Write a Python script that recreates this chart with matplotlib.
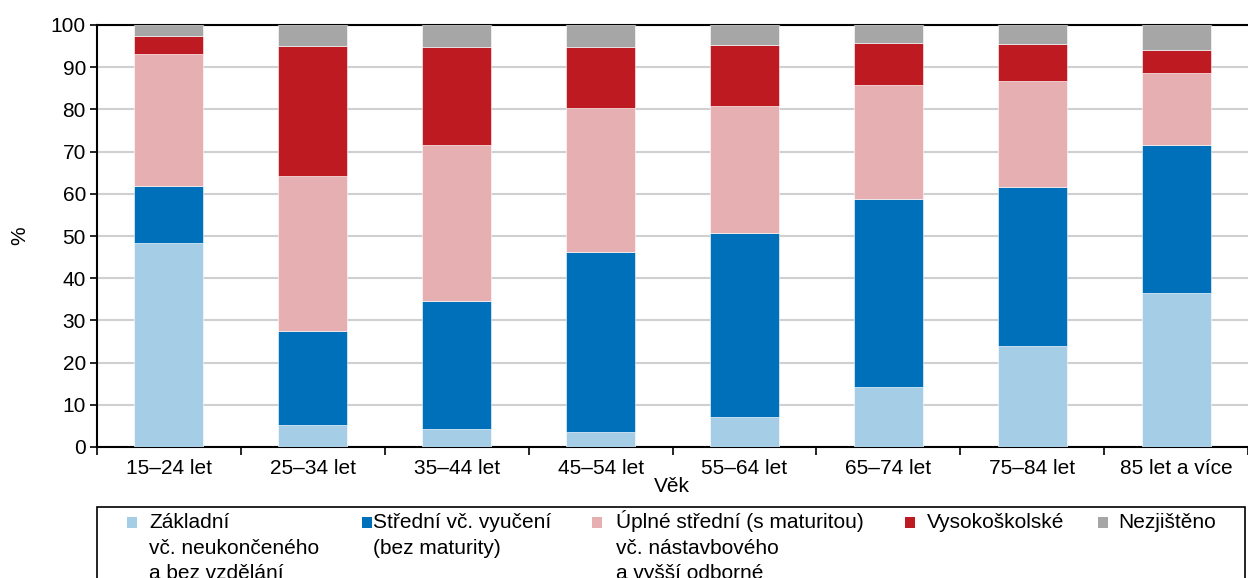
import matplotlib
matplotlib.use("Agg")
import matplotlib.pyplot as plt
from matplotlib.patches import Rectangle
import numpy as np

categories = ["15–24 let", "25–34 let", "35–44 let", "45–54 let",
              "55–64 let", "65–74 let", "75–84 let", "85 let a více"]
zakladni = [48.4, 5.3, 4.2, 3.5, 7.2, 14.1, 23.9, 36.5]
stredni = [13.4, 22.3, 30.3, 42.6, 43.4, 44.65, 37.8, 35.1]
uplne = [31.4, 36.7, 37.0, 34.3, 30.3, 27.1, 25.1, 17.0]
vysoko = [4.3, 30.7, 23.2, 14.5, 14.3, 9.8, 8.8, 5.4]
nezjisteno = [2.5, 5.0, 5.3, 5.1, 4.8, 4.35, 4.4, 6.0]

series_labels = ["Základní\nvč. neukončeného\na bez vzdělání",
                 "Střední vč. vyučení\n(bez maturity)",
                 "Úplné střední (s maturitou)\nvč. nástavbového\na vyšší odborné",
                 "Vysokoškolské",
                 "Nezjištěno"]
colors = ["#A6CDE6", "#0070BA", "#E6B0B3", "#BE1A22", "#A6A6A6"]

plt.rcParams['font.family'] = ['Liberation Sans', 'DejaVu Sans']
FS = 15

W, H = 1248, 578
def fx(px):
    return px / W
def fy(py):
    return 1 - py / H

fig = plt.figure(figsize=(W / 100, H / 100), dpi=100)
ax = fig.add_axes([fx(97), fy(447), 1 - fx(97), (447 - 25) / H])

x = np.arange(len(categories))
bottom = np.zeros(len(categories))
for vals, lab, col in zip([zakladni, stredni, uplne, vysoko, nezjisteno], series_labels, colors):
    ax.bar(x, vals, width=0.48, bottom=bottom, color=col, label=lab,
           edgecolor='white', linewidth=0.4, zorder=3)
    bottom += np.array(vals)

ax.set_xlim(-0.5, len(categories) - 0.5)
ax.set_ylim(0, 100)
ax.set_yticks(np.arange(0, 101, 10))
ax.yaxis.grid(True, color='#D0D0D0', linewidth=1.5, zorder=0)
ax.set_axisbelow(True)

ax.set_xticks(x)
ax.set_xticklabels(categories, fontsize=FS)
ax.set_xticks(np.arange(-0.5, len(categories), 1), minor=True)
ax.tick_params(axis='x', which='major', length=0, pad=9)
ax.tick_params(axis='x', which='minor', length=6, width=1.2, direction='out')
ax.tick_params(axis='y', labelsize=FS, length=5, width=1.2, direction='out', pad=3)

for s in ['left', 'bottom', 'top']:
    ax.spines[s].set_color('black')
    ax.spines[s].set_linewidth(1.5)
ax.spines['right'].set_visible(False)

fig.text(fx(20), fy(236), "%", fontsize=FS, rotation=90, ha='center', va='center')
fig.text(fx(672), fy(486), "Věk", fontsize=FS, ha='center', va='center')

# legend box (extends below the visible area, as in the reference)
fig.patches.append(Rectangle((fx(97), fy(640)), fx(1245) - fx(97), fy(507) - fy(640),
                             transform=fig.transFigure, facecolor='white',
                             edgecolor='black', linewidth=1.2, zorder=1))
marker_x = [127, 362, 592, 905, 1098]
text_x = [149, 373, 616, 927, 1118]
first_baseline = 528
line_pitch = 25.5
for mx, tx, lab, col in zip(marker_x, text_x, series_labels, colors):
    fig.patches.append(Rectangle((fx(mx), fy(528)), fx(10), 11 / H,
                                 transform=fig.transFigure, facecolor=col,
                                 edgecolor='none', zorder=2))
    for i, line in enumerate(lab.split("\n")):
        fig.text(fx(tx), fy(first_baseline + i * line_pitch), line, fontsize=FS,
                 ha='left', va='baseline', zorder=3)

fig.savefig("out.png", dpi=100)
